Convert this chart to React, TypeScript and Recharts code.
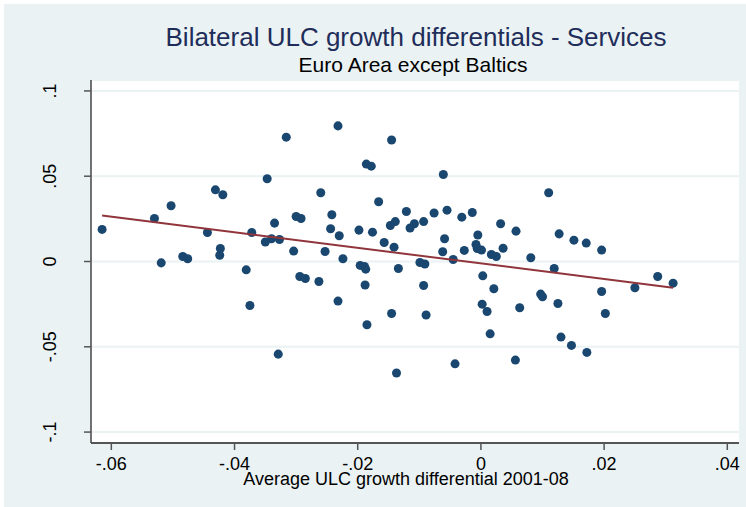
import React from "react";
import {
  ScatterChart,
  Scatter,
  XAxis,
  YAxis,
  ZAxis,
  CartesianGrid,
} from "recharts";

// scatter values
const ulcX = [
  -0.0615, -0.053, -0.0503, -0.0519, -0.0484, -0.0476, -0.0444, -0.0431, -0.0419, -0.0423,
  -0.0424, -0.0381, -0.0375, -0.0372, -0.0347, -0.035, -0.034, -0.0335, -0.0327, -0.0329,
  -0.0316, -0.0304, -0.03, -0.0292, -0.0294, -0.0285, -0.0263, -0.026, -0.0253, -0.0244,
  -0.0242, -0.0232, -0.023, -0.0232, -0.0224, -0.0198, -0.0196, -0.0189, -0.0187, -0.0188,
  -0.0185, -0.0186, -0.0178, -0.0176, -0.0166, -0.0157, -0.0147, -0.0139, -0.0145, -0.0141,
  -0.0134, -0.0145, -0.0137, -0.0121, -0.0115, -0.0108, -0.0099, -0.0091, -0.0093, -0.0093,
  -0.0089, -0.0076, -0.0062, -0.0061, -0.0059, -0.0055, -0.0045, -0.0042, -0.0031, -0.0027,
  -0.0014, -0.0008, -0.0006, -0.0005, 0.0001, 0.0003, 0.0002, 0.001, 0.0015, 0.0017,
  0.0021, 0.0025, 0.0032, 0.0036, 0.0057, 0.0063, 0.0056, 0.0081, 0.0097, 0.01,
  0.011, 0.0119, 0.0125, 0.0127, 0.013, 0.0147, 0.0151, 0.0171, 0.0172, 0.0196,
  0.0196, 0.0202, 0.025, 0.0287, 0.0312,
];
const ulcY = [
  0.0188, 0.0252, 0.0327, -0.0008, 0.0029, 0.0016, 0.017, 0.042, 0.0391, 0.0076,
  0.0037, -0.0049, -0.0258, 0.017, 0.0485, 0.0114, 0.0133, 0.0225, 0.0129, -0.0543,
  0.0729, 0.0061, 0.0264, 0.0252, -0.0088, -0.01, -0.0117, 0.0403, 0.0059, 0.0192,
  0.0274, 0.0795, 0.0151, -0.0232, 0.0016, 0.0184, -0.0023, -0.0029, -0.0045, -0.0138,
  -0.0371, 0.0571, 0.0559, 0.0172, 0.035, 0.0111, 0.0211, 0.0234, 0.0712, 0.0084,
  -0.0041, -0.0305, -0.0654, 0.0293, 0.0196, 0.0221, -0.0006, -0.0015, 0.0234, -0.0141,
  -0.0314, 0.0284, 0.0057, 0.051, 0.0133, 0.0301, 0.0012, -0.06, 0.026, 0.0065,
  0.0287, 0.01, 0.0076, 0.0155, 0.0067, -0.0084, -0.025, -0.0293, -0.0424, 0.0041,
  -0.016, 0.0029, 0.0221, 0.0078, 0.0178, -0.0271, -0.0578, 0.0022, -0.0191, -0.0207,
  0.0403, -0.0041, -0.0246, 0.0162, -0.0443, -0.0492, 0.0125, 0.0108, -0.0533, 0.0067,
  -0.0176, -0.0305, -0.0154, -0.0088, -0.0127,
];

// fitted line end points
const fitX = [-0.0615, 0.0312];
const fitY = [0.027, -0.0154];

const xTicks = [-0.06, -0.04, -0.02, 0, 0.02, 0.04];
const yTicks = [-0.1, -0.05, 0, 0.05, 0.1];

const points = ulcX.map((x, i) => ({ x, y: ulcY[i] }));
const fit = fitX.map((x, i) => ({ x, y: fitY[i] }));

const BG = "#eaf2f3";
const FONT = "'Liberation Sans', Arial, sans-serif";

const fmt = (v: number) => {
  if (v === 0) return "0";
  return (v < 0 ? "-" : "") + String(Math.abs(v)).replace(/^0/, "");
};

const YTick = (props: any) => {
  const { x, y, payload } = props;
  const bx = x - 28;
  return (
    <text
      x={bx}
      y={y}
      transform={`rotate(-90, ${bx}, ${y})`}
      textAnchor="middle"
      fontSize={18}
      fontFamily={FONT}
      fill="#000"
    >
      {fmt(payload.value)}
    </text>
  );
};

const XTick = (props: any) => {
  const { x, y, payload } = props;
  return (
    <text x={x} y={y + 20} textAnchor="middle" fontSize={18} fontFamily={FONT} fill="#000">
      {fmt(payload.value)}
    </text>
  );
};

export default function App() {
  return (
    <div
      style={{
        position: "absolute",
        left: 0,
        top: 0,
        width: 746,
        height: 507,
        background: "#fff",
        fontFamily: FONT,
      }}
    >
      <div
        style={{
          position: "absolute",
          left: 4,
          top: 4,
          width: 742,
          height: 503,
          background: BG,
        }}
      />
      <div
        style={{
          position: "absolute",
          left: 91,
          width: 650,
          top: 22,
          textAlign: "center",
          fontSize: 26,
          color: "#1f2d5a",
          lineHeight: "30px",
        }}
      >
        Bilateral ULC growth differentials - Services
      </div>
      <div
        style={{
          position: "absolute",
          left: 91,
          width: 644,
          top: 53,
          textAlign: "center",
          fontSize: 21,
          color: "#000",
          lineHeight: "24px",
        }}
      >
        Euro Area except Baltics
      </div>
      <div style={{ position: "absolute", left: 0, top: 0 }}>
        <ScatterChart width={746} height={507} margin={{ top: 80, right: 7, bottom: 0, left: 0 }}>
          <CartesianGrid vertical={false} stroke={BG} strokeWidth={2} fill="#fff" />
          <XAxis
            type="number"
            dataKey="x"
            domain={[-0.0633, 0.0419]}
            ticks={xTicks}
            allowDataOverflow
            height={64}
            tickSize={7}
            tickMargin={0}
            axisLine={{ stroke: "#222", strokeWidth: 1.5 }}
            tickLine={{ stroke: "#555", strokeWidth: 1.5 }}
            tick={<XTick />}
          />
          <YAxis
            type="number"
            dataKey="y"
            domain={[-0.1064, 0.1064]}
            ticks={yTicks}
            allowDataOverflow
            width={91}
            tickSize={7}
            tickMargin={0}
            axisLine={{ stroke: "#444", strokeWidth: 1.5 }}
            tickLine={{ stroke: "#555", strokeWidth: 1.5 }}
            tick={<YTick />}
          />
          <ZAxis range={[70, 70]} />
          <Scatter data={points} fill="#1a476f" isAnimationActive={false} />
          <Scatter
            data={fit}
            line={{ stroke: "#90353b", strokeWidth: 2 }}
            shape={() => <g />}
            isAnimationActive={false}
          />
        </ScatterChart>
      </div>
      <div
        style={{
          position: "absolute",
          left: 206,
          width: 400,
          top: 469,
          textAlign: "center",
          fontSize: 18,
          color: "#000",
          lineHeight: "20px",
        }}
      >
        Average ULC growth differential 2001-08
      </div>
    </div>
  );
}
